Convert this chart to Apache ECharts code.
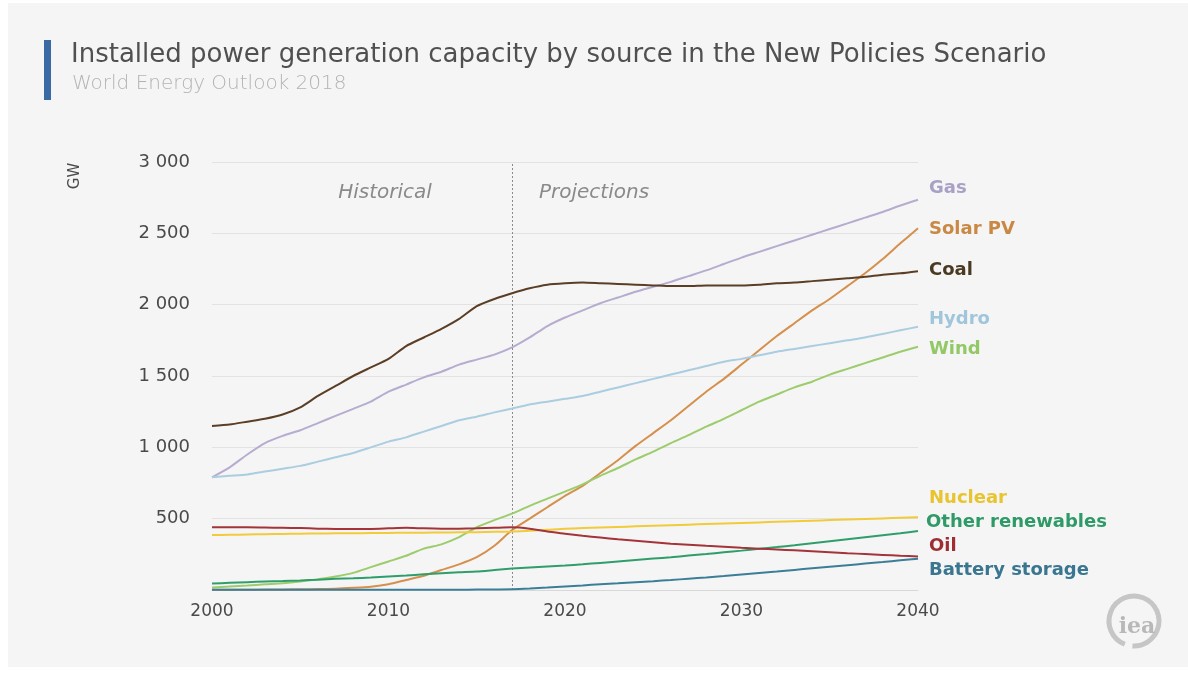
<!DOCTYPE html>
<html>
<head>
<meta charset="utf-8">
<script src="https://cdn.jsdelivr.net/npm/echarts@6/dist/echarts.min.js"></script>
<style>
  html, body { margin: 0; padding: 0; background: #ffffff; }
  #chart { width: 1188px; height: 676px; }
</style>
</head>
<body>
<div id="chart"></div>
<script>
// Years 2000–2040
const years = [];
for (let y = 2000; y <= 2040; y++) years.push(y);

// Installed capacity, GW
const gas = [790, 860, 950, 1030, 1080, 1120, 1170, 1220, 1270, 1320, 1390, 1440, 1490, 1530, 1580, 1615, 1650, 1700, 1770, 1850, 1910, 1960, 2010, 2050, 2090, 2125, 2160, 2200, 2240, 2285, 2330, 2370, 2410, 2450, 2490, 2530, 2570, 2610, 2650, 2695, 2735];
const solarPV = [1, 2, 2, 3, 4, 5, 7, 9, 15, 23, 40, 70, 100, 140, 180, 230, 310, 420, 500, 580, 660, 730, 820, 910, 1010, 1100, 1190, 1290, 1390, 1480, 1580, 1680, 1780, 1870, 1960, 2040, 2130, 2220, 2320, 2430, 2535];
const coal = [1150, 1160, 1180, 1200, 1230, 1280, 1360, 1430, 1500, 1560, 1620, 1710, 1770, 1830, 1900, 1990, 2040, 2080, 2115, 2140, 2150, 2155, 2150, 2145, 2140, 2135, 2130, 2130, 2135, 2135, 2135, 2140, 2150, 2155, 2165, 2175, 2185, 2195, 2210, 2220, 2235];
const hydro = [790, 800, 810, 830, 850, 870, 900, 930, 960, 1000, 1040, 1070, 1110, 1150, 1190, 1215, 1245, 1272, 1300, 1320, 1340, 1360, 1390, 1420, 1450, 1480, 1510, 1540, 1570, 1600, 1620, 1645, 1670, 1690, 1710, 1730, 1750, 1770, 1795, 1820, 1845];
const wind = [17, 24, 31, 40, 48, 60, 75, 95, 120, 160, 200, 240, 290, 320, 370, 440, 490, 535, 590, 640, 690, 740, 800, 855, 915, 970, 1030, 1085, 1145, 1200, 1260, 1320, 1370, 1420, 1460, 1510, 1550, 1590, 1630, 1670, 1705];
const nuclear = [385, 387, 389, 391, 393, 395, 396, 397, 398, 399, 400, 401, 402, 403, 404, 405, 408, 410, 415, 422, 430, 434, 438, 442, 446, 450, 454, 458, 462, 466, 470, 474, 478, 482, 486, 490, 494, 498, 502, 506, 510];
const otherRenewables = [45, 50, 55, 60, 63, 67, 72, 78, 82, 88, 95, 102, 110, 117, 124, 130, 140, 150, 158, 165, 172, 180, 190, 200, 210, 220, 230, 241, 252, 264, 276, 289, 301, 314, 328, 342, 356, 370, 384, 398, 413];
const oil = [440, 440, 440, 438, 436, 434, 430, 428, 427, 428, 432, 436, 432, 430, 430, 432, 436, 440, 430, 410, 395, 380, 368, 355, 345, 335, 325, 318, 310, 303, 296, 290, 284, 278, 272, 265, 258, 252, 246, 240, 235];
const batteryStorage = [1, 1, 1, 1, 1, 1, 1, 1, 1, 1, 1, 1, 2, 2, 2, 3, 4, 5, 10, 17, 25, 32, 40, 47, 55, 62, 70, 79, 88, 98, 109, 120, 130, 141, 152, 163, 174, 185, 196, 208, 219];

const seriesNames = ['Gas', 'Solar PV', 'Coal', 'Hydro', 'Wind', 'Nuclear', 'Other renewables', 'Oil', 'Battery storage'];
const seriesData = [gas, solarPV, coal, hydro, wind, nuclear, otherRenewables, oil, batteryStorage];
const lineColors = ['#b7acd0', '#d4904c', '#5b3e26', '#aacde0', '#9ccc6c', '#f1cb3a', '#2f9e6b', '#a3343a', '#3c7e98'];
const labelColors = ['#a9a0c6', '#c98844', '#4a3a22', '#9fc6da', '#92c866', '#e8c42e', '#2e9a68', '#9c2e34', '#3a7690'];
// label rows to the right of the plot (pixel rows)
const labelY = [188, 229, 270, 319, 349, 498, 522, 546, 570];
const labelX = [929, 929, 929, 929, 929, 929, 926, 929, 929];

const projectionStart = 2017;

const FONT = '"DejaVu Sans", "Noto Sans", sans-serif';

const chart = echarts.init(document.getElementById('chart'), null, { renderer: 'canvas' });

const series = seriesNames.map((name, i) => ({
  name: name,
  type: 'line',
  data: years.map((y, k) => [y, seriesData[i][k]]),
  showSymbol: false,
  smooth: 0.2,
  lineStyle: { width: 2, color: lineColors[i] },
  itemStyle: { color: lineColors[i] },
  z: 3 + i,
  markLine: i === 0 ? {
    silent: true,
    symbol: 'none',
    label: { show: false },
    lineStyle: { type: [2, 2], color: '#8a8a8a', width: 1 },
    data: [{ xAxis: projectionStart }]
  } : undefined
}));

const graphics = [
  { type: 'rect', left: 8, top: 3, shape: { width: 1180, height: 664 }, style: { fill: '#f5f5f5' }, z: -10, silent: true },
  { type: 'rect', left: 44, top: 40, shape: { width: 7, height: 60 }, style: { fill: '#3a6aa3' } },
  { type: 'text', left: 71, top: 42, style: { text: 'Installed power generation capacity by source in the New Policies Scenario', fill: '#505050', font: '26px ' + FONT } },
  { type: 'text', left: 72, top: 74, style: { text: 'World Energy Outlook 2018', fill: '#b3b3b3', font: '200 20px ' + FONT } },
  { type: 'text', x: 385, y: 193, style: { text: 'Historical', fill: '#8a8a8a', font: 'italic 200 20px ' + FONT, textAlign: 'center', textVerticalAlign: 'middle' } },
  { type: 'text', x: 594, y: 193, style: { text: 'Projections', fill: '#8a8a8a', font: 'italic 200 20px ' + FONT, textAlign: 'center', textVerticalAlign: 'middle' } },
  { type: 'text', x: 75, y: 176, rotation: Math.PI / 2, style: { text: 'GW', fill: '#4a4a4a', font: '15px ' + FONT, textAlign: 'center', textVerticalAlign: 'middle' } },
  // iea mark
  { type: 'arc', shape: { cx: 1134, cy: 621, r: 25, startAngle: Math.PI * 0.62, endAngle: Math.PI * 2.52 }, style: { stroke: '#c6c6c6', lineWidth: 5, fill: null } },
  { type: 'text', x: 1137, y: 627, style: { text: 'iea', fill: '#b8b8b8', font: 'bold 22px "DejaVu Serif", serif', textAlign: 'center', textVerticalAlign: 'middle' } }
];

seriesNames.forEach((name, i) => {
  graphics.push({
    type: 'text', x: labelX[i], y: labelY[i],
    style: { text: name, fill: labelColors[i], font: 'bold 18px ' + FONT, textVerticalAlign: 'middle' }
  });
});

chart.setOption({
  backgroundColor: '#ffffff',
  animation: false,
  grid: { left: 212, right: 270, top: 162, bottom: 86 },
  xAxis: {
    type: 'value',
    min: 2000, max: 2040, interval: 10,
    axisLine: { show: true, lineStyle: { color: '#d8d8d8', width: 1 } },
    axisTick: { show: false },
    splitLine: { show: false },
    axisLabel: { color: '#4a4a4a', fontSize: 17, margin: 13, fontFamily: FONT, formatter: v => String(v) }
  },
  yAxis: {
    type: 'value',
    min: 0, max: 3000, interval: 500,
    axisLine: { show: false },
    axisTick: { show: false },
    splitLine: { lineStyle: { color: '#e2e2e2', width: 1 } },
    axisLabel: {
      color: '#4a4a4a', fontSize: 18, margin: 22, fontFamily: FONT,
      formatter: v => v === 0 ? '' : (v >= 1000 ? Math.floor(v / 1000) + ' ' + String(v % 1000).padStart(3, '0') : String(v))
    }
  },
  series: series,
  graphic: graphics
});
</script>
</body>
</html>
